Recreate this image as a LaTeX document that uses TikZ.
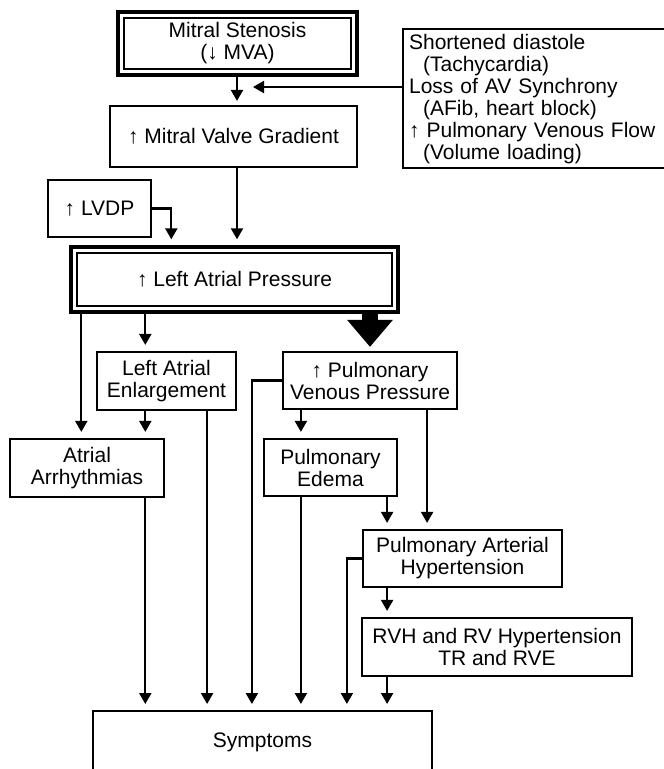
\documentclass[tikz,border=0pt]{standalone}
\usepackage{fontspec}
\setmainfont{Liberation Sans}
\usetikzlibrary{arrows.meta, positioning, calc}

\begin{document}
\begin{tikzpicture}[x=1pt, y=-1pt,
                font=\fontsize{21}{22}\selectfont,
                box/.style={draw, line width=2.2pt, align=center, inner sep=0pt},
                framed/.style={draw, line width=3.4pt, align=center, inner sep=0pt,
                    path picture={\draw[line width=1.5pt]
                        ([shift={(6pt,6pt)}]path picture bounding box.south west) rectangle
                        ([shift={(-6pt,-6pt)}]path picture bounding box.north east);}},
                link/.style={line width=2.2pt, -{Triangle[width=12pt,length=11pt]}, shorten >=6pt},
                flow/.style={line width=16pt, -{Triangle[width=44pt,length=27pt]}, shorten >=4pt}]
                \useasboundingbox (0,0) rectangle (664,769);
                \clip (0,0) rectangle (664,769);

                % Boxes
                \node[framed, minimum width=239pt, minimum height=63pt] (ms) at (237.5,43.5)
                    {Mitral Stenosis\\(↓ MVA)};
                \node[box, minimum width=247pt, minimum height=61pt] (mvg) at (233.5,136.5)
                    {↑ Mitral Valve Gradient};
                \node[box, anchor=north west, text width=288pt, inner xsep=6pt,
                      minimum height=139pt, align=left] (extra) at (402,28)
                    {Shortened diastole\\
                     \hspace*{14pt}(Tachycardia)\\
                     Loss of AV Synchrony\\
                     \hspace*{14pt}(AFib, heart block)\\
                     ↑ Pulmonary Venous Flow\\
                     \hspace*{14pt}(Volume loading)};
                \node[box, minimum width=103pt, minimum height=57pt] (lvdp) at (99.5,208.5) {↑ LVDP};
                \node[framed, minimum width=327pt, minimum height=65pt] (lap) at (234.5,279.5)
                    {↑ Left Atrial Pressure};
                \node[box, minimum width=139pt, minimum height=58pt] (lae) at (166.5,381)
                    {Left Atrial\\Enlargement};
                \node[box, minimum width=174pt, minimum height=57pt] (pvp) at (370,380.5)
                    {↑ Pulmonary\\Venous Pressure};
                \node[box, minimum width=154pt, minimum height=58pt] (aa) at (87,468)
                    {Atrial\\Arrhythmias};
                \node[box, minimum width=133pt, minimum height=57pt] (pe) at (330.5,467.5)
                    {Pulmonary\\Edema};
                \node[box, minimum width=199pt, minimum height=57pt] (pah) at (462.5,558.5)
                    {Pulmonary Arterial\\Hypertension};
                \node[box, minimum width=270pt, minimum height=58pt] (rvh) at (497,647)
                    {RVH and RV Hypertension\\TR and RVE};
                \node[box, anchor=north, minimum width=339pt, minimum height=62pt] (sym) at (262.5,710)
                    {Symptoms};

                % Tap points for the vertical lines
                \coordinate (msjoin) at (253,87);
                \coordinate (lapA) at ($(lap.south west)+(12,0)$);
                \coordinate (lapB) at ($(lap.south west)+(76,0)$);
                \coordinate (laeR) at ($(lae.south east)+(-30,0)$);
                \coordinate (pvpL) at ($(pvp.west)+(-30,0)$);
                \coordinate (pvpR) at ($(pvp.south east)+(-31,0)$);
                \coordinate (peL) at ($(pe.south west)+(38,0)$);
                \coordinate (peR) at ($(pe.south east)+(-11,0)$);
                \coordinate (pahL) at ($(pah.west)+(-15,0)$);

                % Top part
                \draw[link, shorten >=4pt] (ms.south -| 237,0) -- (mvg.north -| 237,0);
                \draw[link, shorten >=0pt] (extra.west |- msjoin) -- (msjoin);
                \draw[link] (mvg.south -| 237,0) -- (lap.north -| 237,0);
                \draw[link] (lvdp.east) -| ($(lap.north west)+(102,0)$);

                % Left Atrial Pressure outputs
                \draw[link] (lapA) -- (lapA |- aa.north);
                \draw[link] (lapB) -- (lapB |- lae.north);
                \draw[flow] (pvp.north |- lap.south) -- (pvp.north);

                % Left side
                \draw[link] (lapB |- lae.south) -- (lapB |- aa.north);
                \draw[link] (lapB |- aa.south) -- (lapB |- sym.north);
                \draw[link] (laeR) -- (laeR |- sym.north);

                % Pulmonary side
                \draw[link] (pvp.west) -| (pvpL |- sym.north);
                \draw[link] (peL |- pvp.south) -- (peL |- pe.north);
                \draw[link] (peL |- pe.south) -- (peL |- sym.north);
                \draw[link] (pvpR) -- (pvpR |- pah.north);
                \draw[link] (peR) -- (peR |- pah.north);
                \draw[link] (pah.west) -| (pahL |- sym.north);
                \draw[link] (peR |- pah.south) -- (peR |- rvh.north);
                \draw[link] (peR |- rvh.south) -- (peR |- sym.north);
            \end{tikzpicture}
\end{document}
